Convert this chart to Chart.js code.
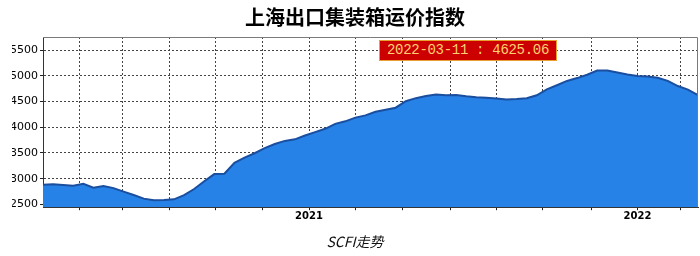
<!DOCTYPE html>
<html>
<head>
<meta charset="utf-8">
<script src="https://cdn.jsdelivr.net/npm/chart.js@4/dist/chart.umd.min.js"></script>
<style>
  html, body { margin: 0; padding: 0; background: #fff; }
  #wrap { position: relative; width: 700px; height: 256px; }
  #last-tag {
    position: absolute; left: 379px; top: 40px; width: 176px; height: 19px;
    background: #cc0000; border: 1px solid #e8a030;
    color: #ffd070; font: 14px 'Liberation Mono', monospace; letter-spacing: -0.3px;
    line-height: 19px; text-align: center; white-space: pre;
  }
</style>
</head>
<body>
<div id="wrap">
  <canvas id="scfi" width="700" height="256"></canvas>
  <div id="last-tag"></div>
</div>
<script>
// weekly SCFI readings
const values = [
  2883, 2895, 2880, 2864, 2900, 2825, 2860, 2818, 2750, 2684,
  2613, 2580, 2587, 2600, 2680, 2800, 2950, 3090, 3097, 3310,
  3410, 3495, 3595, 3675, 3735, 3765, 3840, 3905, 3970, 4065,
  4115, 4187, 4230, 4300, 4340, 4380, 4505, 4565, 4605, 4635,
  4620, 4625, 4600, 4582, 4575, 4560, 4540, 4549, 4565, 4620,
  4735, 4816, 4900, 4955, 5020, 5100, 5102, 5063, 5025, 4997,
  4985, 4960, 4900, 4800, 4730, 4625.06
];
const lastDate = '2022-03-11';

// x tick positions (in week index) and their labels
const xTickPos    = [3.6, 7.9, 12.6, 17.1, 21.8, 26.4, 31.0, 35.7, 40.4, 45.0, 49.6, 54.4, 59.0, 63.3];
const xTickLabels = ['', '', '', '', '', '2021', '', '', '', '', '', '', '2022', ''];
const yTicks = [2500, 3000, 3500, 4000, 4500, 5000, 5500];

document.getElementById('last-tag').textContent =
  lastDate + ' : ' + values[values.length - 1].toFixed(2);

// top + right frame of the plot box
const frame = {
  id: 'frame',
  afterDatasetsDraw(chart) {
    const a = chart.chartArea, ctx = chart.ctx;
    ctx.save();
    ctx.strokeStyle = '#7a7a7a';
    ctx.lineWidth = 1;
    ctx.beginPath();
    ctx.moveTo(a.left, a.top + 0.5);
    ctx.lineTo(a.right - 0.5, a.top + 0.5);
    ctx.lineTo(a.right - 0.5, a.bottom);
    ctx.stroke();
    ctx.restore();
  }
};

new Chart(document.getElementById('scfi'), {
  type: 'line',
  data: {
    datasets: [{
      data: values.map((v, i) => ({ x: i, y: v })),
      borderColor: '#1a4e9e',
      borderWidth: 2,
      backgroundColor: '#2782e8',
      fill: 'start',
      pointRadius: 0,
      tension: 0
    }]
  },
  options: {
    responsive: false,
    animation: false,
    layout: { padding: { left: 12, right: 2, top: 0, bottom: 0 } },
    plugins: {
      legend: { display: false },
      tooltip: { enabled: false },
      title: {
        display: true,
        text: '上海出口集装箱运价指数',
        color: '#000',
        font: { family: 'Noto Sans CJK SC', size: 20, weight: 'bold' },
        padding: { top: 5, bottom: 8 }
      },
      subtitle: {
        display: true,
        position: 'bottom',
        text: 'SCFI走势',
        color: '#111',
        font: { family: 'Noto Sans CJK SC', size: 14, style: 'italic' },
        padding: { top: 0, bottom: 6 }
      }
    },
    scales: {
      x: {
        type: 'linear',
        min: 0,
        max: values.length - 1,
        afterBuildTicks(scale) { scale.ticks = xTickPos.map(v => ({ value: v })); },
        afterFit(scale) { scale.height = 26; },
        ticks: {
          autoSkip: false,
          maxRotation: 0,
          padding: 0,
          color: '#000',
          font: { family: 'DejaVu Sans', size: 10, weight: 'bold' },
          callback: (v, i) => xTickLabels[i]
        },
        grid: { color: '#444', tickLength: 3, tickColor: '#222', tickBorderDash: [] },
        border: { color: '#333', width: 1, dash: [2, 2] }
      },
      y: {
        min: 2447,
        max: 5753,
        afterBuildTicks(scale) { scale.ticks = yTicks.map(v => ({ value: v })); },
        afterFit(scale) { scale.width = 31; },
        ticks: {
          padding: 2,
          color: '#000',
          font: { family: 'DejaVu Sans', size: 11 },
          callback: v => String(v)
        },
        grid: { color: '#444', tickLength: 3, tickColor: '#222', tickBorderDash: [] },
        border: { color: '#333', width: 1, dash: [2, 2] }
      }
    }
  },
  plugins: [frame]
});
</script>
</body>
</html>
